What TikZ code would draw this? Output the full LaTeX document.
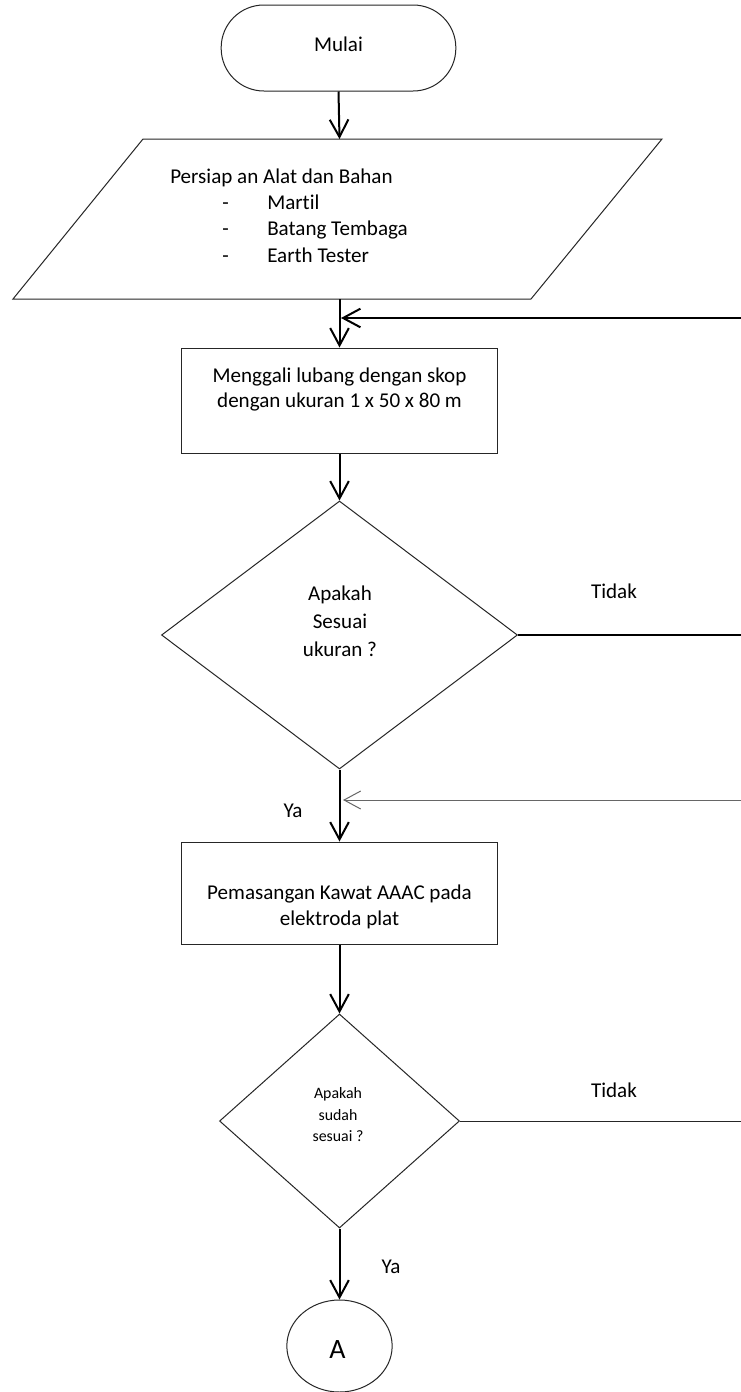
\documentclass[tikz,border=0pt]{standalone}
\usepackage{fontspec}
\setmainfont{Carlito}[Ligatures=NoCommon]
\usetikzlibrary{arrows.meta,shapes.geometric}

\begin{document}
\begin{tikzpicture}[x=0.75pt,y=-0.75pt,
  outline/.style={draw=black!85, line width=0.75pt},
  termbox/.style={outline, rectangle, rounded corners=32pt, minimum width=176pt, minimum height=64.5pt, inner sep=0pt},
  procbox/.style={outline, rectangle, minimum width=237pt, inner sep=0pt},
  decision/.style={outline, diamond, inner sep=0pt, aspect=1},
  conn/.style={ellipse, outline, minimum width=79pt, minimum height=69pt, inner sep=0pt},
  txt/.style={inner sep=0pt, font=\fontsize{15.8pt}{18.75pt}\selectfont},
  smalltxt/.style={inner sep=0pt, align=center, font=\fontsize{11.9pt}{16.1pt}\selectfont},
  arr/.style={draw=black, line width=1.5pt, -{Straight Barb[length=13pt,width=14pt]}},
  thinarr/.style={draw=black!60, line width=0.75pt, -{Straight Barb[length=12.5pt,width=13.5pt]}},
  thickline/.style={draw=black, line width=1.5pt},
  thinline/.style={draw=black!85, line width=0.75pt}]

  % page frame
  \fill[white] (0,0) rectangle (741,1392);
  \useasboundingbox (0,0) rectangle (741,1392);

  % start terminator
  \node[termbox] (start) at (338.5,48) {};
  \node[txt] (startt) at (338.5,44) {Mulai};

  % input / output: tools and materials
  \draw[outline] (143,139) -- (662,139) -- (531,299) -- (13,299) -- cycle;
  \coordinate (pTop) at (339.5,139);
  \coordinate (pBot) at (339.5,299);
  \node[txt, anchor=base west] (prep) at (170,183) {Persiap an Alat dan Bahan};
  \node[txt, anchor=base west] (dash1) at (222,209) {-};
  \node[txt, anchor=base west] (item1) at (267,209) {Martil};
  \node[txt, anchor=base west] (dash2) at (222,235.5) {-};
  \node[txt, anchor=base west] (item2) at (267,235.5) {Batang Tembaga};
  \node[txt, anchor=base west] (dash3) at (222,262) {-};
  \node[txt, anchor=base west] (item3) at (267,262) {Earth Tester};

  % digging step
  \node[procbox, minimum height=78.75pt] (b1) at (339.5,400.5) {};
  \node[txt, align=center] (b1t) at (339.5,389) {Menggali lubang dengan skop\\dengan ukuran 1 x 50 x 80 m};

  % size check
  \node[decision, minimum width=267pt, minimum height=201pt] (d1) at (339.5,635) {};
  \node[txt, align=center, font=\fontsize{15.8pt}{21pt}\selectfont] (d1t) at (340,621) {Apakah\\Sesuai\\ukuran ?};

  % wire installation
  \node[procbox, minimum height=76.5pt] (b2) at (339.5,893) {};
  \node[txt, align=center, font=\fontsize{15.8pt}{19.5pt}\selectfont] (b2t) at (339.5,907) {Pemasangan Kawat AAAC pada\\elektroda plat};

  % installation check
  \node[decision, minimum width=180pt, minimum height=160.5pt] (d2) at (339.5,1121) {};
  \node[smalltxt] (d2t) at (338,1115) {Apakah\\sudah\\sesuai ?};

  % off-page connector
  \node[conn] (A) at (339.5,1346) {};
  \node[txt, font=\fontsize{21pt}{24pt}\selectfont] (At) at (337.5,1350) {A};

  % branch labels
  \node[txt] (no1) at (614,591) {Tidak};
  \node[txt] (yes1) at (293,811) {Ya};
  \node[txt] (no2) at (614,1090) {Tidak};
  \node[txt] (yes2) at (391,1267) {Ya};

  % loose ends of the return lines
  \coordinate (fb1) at (741,318);
  \coordinate (j1) at (341,318);
  \coordinate (e1) at (741,635);
  \coordinate (fb2) at (741,800);
  \coordinate (j2) at (343,800);
  \coordinate (e2) at (741,1121);

  % flow
  \draw[arr] (start.south) -- (pTop);
  \draw[arr] (pBot) -- (b1.north);
  \draw[arr] (fb1) -- (j1);
  \draw[arr] (b1.south) -- (d1.north);
  \draw[thickline] (d1.east) -- (e1);
  \draw[arr] (d1.south) -- (b2.north);
  \draw[thinarr] (fb2) -- (j2);
  \draw[arr] (b2.south) -- (d2.north);
  \draw[thinline] (d2.east) -- (e2);
  \draw[arr] (d2.south) -- (A.north);
\end{tikzpicture}
\end{document}
